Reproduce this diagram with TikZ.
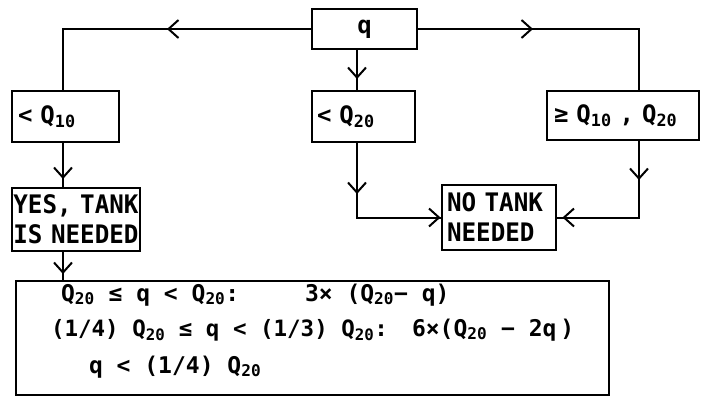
\documentclass[tikz,border=0pt]{standalone}
\usepackage{fontspec}
\setmainfont{DejaVu Sans Mono}[BoldFont={DejaVu Sans Mono Bold}]
\newfontfamily\boxfont{DejaVu Sans Mono Bold}[FakeStretch=0.95]
\usetikzlibrary{arrows.meta,decorations.markings}
\begin{document}
\begin{tikzpicture}[x=1pt,y=-1pt,line width=2pt,
  >={Straight Barb[length=10pt,width=18pt]},
  box/.style={draw,line width=2pt,inner sep=0pt},
  lbl/.style={font=\bfseries\fontsize{24}{28}\selectfont},
  big/.style={font=\boxfont\fontsize{25.5}{30}\selectfont},
  txt/.style={inner sep=0pt,anchor=base west,font=\bfseries\fontsize{23}{26}\selectfont},
  mk/.style={postaction={decorate},decoration={markings,mark=at position #1 with {\arrow{>}}}},
  mkk/.style 2 args={postaction={decorate},decoration={markings,mark=at position #1 with {\arrow{>}},mark=at position #2 with {\arrow{>}}}}]
\useasboundingbox (0,0) rectangle (701,397);
\node[box,lbl,minimum width=105pt,minimum height=40pt] (q) at (364.5,29) {q};
\node[box,lbl,minimum height=51pt,inner xsep=6pt,text width=95pt,align=left] (lq) at (65.5,116.5) {<\,\,Q\textsubscript{10}};
\node[box,lbl,minimum height=51pt,inner xsep=5pt,text width=93pt,align=left] (mq) at (363.5,116.5) {<\,\,Q\textsubscript{20}};
\node[box,lbl,minimum height=49pt,inner xsep=7pt,text width=138pt,align=left] (rq) at (623,115.5) {≥ Q\textsubscript{10} , Q\textsubscript{20}};
\node[box,big,minimum height=63pt,inner xsep=1pt,text width=126pt,align=center] (yes) at (76,219.5) {YES, TANK\\IS NEEDED};
\node[box,big,minimum height=65pt,inner xsep=5pt,text width=104pt,align=left] (no) at (499,217.5) {NO TANK\\NEEDED};
\node[box,minimum width=593pt,minimum height=114pt] (bot) at (312.5,338) {};
\node[txt] (l1a) at (60,301) {Q\textsubscript{20} ≤ q < Q\textsubscript{20}:};
\node[txt] (l1b) at (304,301) {3× (Q\textsubscript{20}− q)};
\node[txt,font=\bfseries\fontsize{22.5}{26}\selectfont] (l2a) at (50,336) {(1/4) Q\textsubscript{20} ≤ q < (1/3) Q\textsubscript{20}:};
\node[txt] (l2b) at (411,336) {6×(Q\textsubscript{20} − 2q\,)};
\node[txt] (l3) at (88,373) {q < (1/4) Q\textsubscript{20}};
% connectors
\draw[mk=144pt] (q.west) -| (lq.north -| 63,0);
\draw[mk=115pt] (q.east) -| (rq.north -| 639,0);
\draw[mk=29pt] (q.south -| 357,0) -- (mq.north -| 357,0);
\draw[mk=36pt] (lq.south -| 63,0) -- (yes.north -| 63,0);
\draw[mk=22pt] (yes.south -| 63,0) -- (bot.north -| 63,0);
\draw[mkk={51pt}{158pt}] (mq.south -| 357,0) |- (no.west);
\draw[mkk={39pt}{153pt}] (rq.south -| 639,0) |- (no.east);
\end{tikzpicture}
\end{document}
